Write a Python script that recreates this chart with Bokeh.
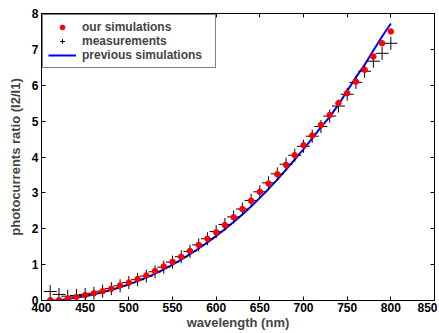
from bokeh.plotting import figure
from bokeh.models import LinearAxis, Range1d, Legend, LegendItem, FixedTicker, CustomJSTickFormatter
from bokeh.embed import file_html
from bokeh.resources import INLINE

wavelength = [410, 420, 430, 440, 450, 460, 470, 480, 490, 500,
              510, 520, 530, 540, 550, 560, 570, 580, 590, 600,
              610, 620, 630, 640, 650, 660, 670, 680, 690, 700,
              710, 720, 730, 740, 750, 760, 770, 780, 790, 800]

our_sim = [0.01, 0.01, 0.05, 0.10, 0.15, 0.20, 0.26, 0.33, 0.42, 0.50,
           0.60, 0.70, 0.82, 0.95, 1.08, 1.22, 1.38, 1.55, 1.72, 1.90,
           2.10, 2.32, 2.55, 2.78, 3.03, 3.26, 3.52, 3.78, 4.05, 4.33,
           4.60, 4.89, 5.17, 5.50, 5.78, 6.10, 6.43, 6.80, 7.17, 7.50]

measured = [0.25, 0.17, 0.12, 0.14, 0.17, 0.20, 0.26, 0.33, 0.41, 0.50,
            0.58, 0.68, 0.80, 0.93, 1.07, 1.22, 1.37, 1.55, 1.72, 1.92,
            2.12, 2.33, 2.55, 2.79, 3.03, 3.28, 3.53, 3.80, 4.05, 4.30,
            4.58, 4.85, 5.14, 5.42, 5.75, 6.08, 6.39, 6.67, 6.89, 7.17]

previous_sim = [0.00, 0.01, 0.04, 0.08, 0.12, 0.17, 0.23, 0.30, 0.37, 0.45,
                0.54, 0.64, 0.75, 0.87, 1.00, 1.14, 1.29, 1.45, 1.62, 1.80,
                1.99, 2.19, 2.40, 2.62, 2.86, 3.11, 3.37, 3.65, 3.93, 4.22,
                4.52, 4.83, 5.12, 5.46, 5.84, 6.22, 6.57, 6.97, 7.36, 7.72]

x_ticks = [400, 450, 500, 550, 600, 650, 700, 750, 800, 850]
y_ticks = [0, 1, 2, 3, 4, 5, 6, 7, 8]

FONT = "Liberation Sans"

p = figure(width=437, height=332, output_backend="svg", toolbar_location=None,
           x_range=Range1d(400, 850), y_range=Range1d(0, 8),
           min_border_left=41, min_border_right=3, min_border_top=13, min_border_bottom=31)
p.grid.visible = False
p.outline_line_color = "black"
p.outline_line_width = 1

for ax in (p.xaxis[0], p.yaxis[0]):
    ax.major_tick_in = 4
    ax.major_tick_out = 0
    ax.minor_tick_line_color = None
    ax.major_label_text_font = FONT
    ax.major_label_text_font_style = "bold"
    ax.major_label_text_font_size = "12px"
    ax.major_label_text_color = "black"
    ax.axis_label_text_font = FONT
    ax.axis_label_text_font_style = "bold"
    ax.axis_label_text_font_size = "13px"
    ax.axis_line_color = "black"

p.xaxis[0].major_label_standoff = 2
p.yaxis[0].major_label_standoff = 3
p.xaxis[0].ticker = FixedTicker(ticks=x_ticks)
p.yaxis[0].ticker = FixedTicker(ticks=y_ticks)
p.xaxis[0].axis_label = "wavelength (nm)"
p.yaxis[0].axis_label = "photocurrents ratio (I2/I1)"
p.xaxis[0].axis_label_standoff = 0
p.yaxis[0].axis_label_standoff = 6

blank = CustomJSTickFormatter(code="return ''")
top = LinearAxis(ticker=FixedTicker(ticks=x_ticks), formatter=blank,
                 major_tick_in=4, major_tick_out=0, minor_tick_line_color=None,
                 major_label_standoff=0)
right = LinearAxis(ticker=FixedTicker(ticks=y_ticks), formatter=blank,
                   major_tick_in=4, major_tick_out=0, minor_tick_line_color=None,
                   major_label_standoff=0)
p.add_layout(top, "above")
p.add_layout(right, "right")

r_prev = p.line(wavelength, previous_sim, line_color="blue", line_width=2)
r_meas = p.scatter(wavelength, measured, marker="cross", size=13, line_color="black", line_width=1)
r_ours = p.scatter(wavelength, our_sim, marker="circle", size=5.5, fill_color="red", line_color="red")

legend = Legend(items=[
    LegendItem(label="our simulations", renderers=[r_ours]),
    LegendItem(label="measurements", renderers=[r_meas]),
    LegendItem(label="previous simulations", renderers=[r_prev]),
], location="top_left")
legend.margin = 1
legend.padding = 5
legend.spacing = 0
legend.glyph_height = 12
legend.glyph_width = 28
legend.label_height = 12
legend.label_width = 128
legend.label_text_font = FONT
legend.label_text_font_style = "bold"
legend.label_text_font_size = "12px"
legend.label_standoff = 6
legend.border_line_color = "black"
legend.border_line_width = 1
p.add_layout(legend)

open("out.html", "w").write(file_html(p, INLINE))
